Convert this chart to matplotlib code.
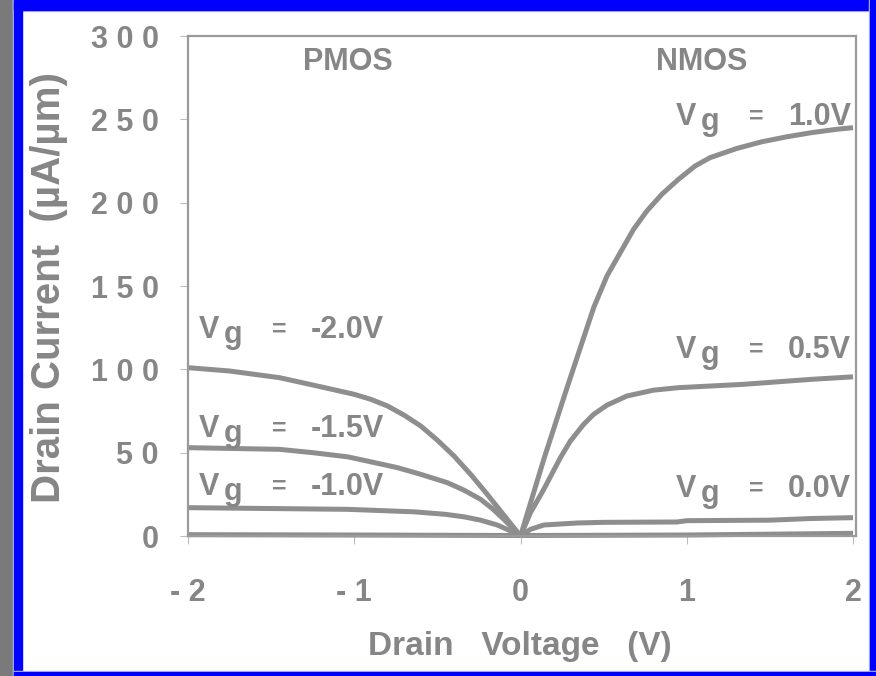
import matplotlib
matplotlib.use("Agg")
import matplotlib.pyplot as plt
from matplotlib.patches import Rectangle
from matplotlib.transforms import offset_copy

W, H = 876, 676

# PMOS curves (negative drain voltage)
x_pm20 = [-2.0, -1.75, -1.45, -1.2, -1.0, -0.9, -0.8, -0.7, -0.6, -0.5, -0.4, -0.3, -0.2, -0.1, 0.0]
i_pm20 = [101, 99, 95, 89.5, 85, 82, 78, 72.5, 66, 57.5, 48, 37, 25, 12.5, 0]
x_pm15 = [-2.0, -1.45, -1.25, -1.04, -0.9, -0.74, -0.6, -0.44, -0.34, -0.24, -0.17, -0.1, 0.0]
i_pm15 = [53, 52, 50, 47.5, 44.5, 41, 37, 32, 27.5, 22, 16.5, 10, 0]
x_pm10 = [-2.0, -1.04, -0.64, -0.45, -0.34, -0.24, -0.14, -0.07, 0.0]
i_pm10 = [17, 16, 14.5, 13, 11.5, 9.5, 6.6, 3.5, 0]
x_pm00 = [-2.0, -1.0, 0.0]
i_pm00 = [0.8, 0.6, 0.3]

# NMOS curves (positive drain voltage)
x_nm10 = [0.0, 0.14, 0.28, 0.44, 0.52, 0.6, 0.68, 0.76, 0.85, 0.95, 1.05, 1.14,
          1.3, 1.45, 1.6, 1.75, 1.9, 2.0]
i_nm10 = [0, 46, 89, 137, 156, 170, 184, 195, 205, 214, 222, 227,
          232.5, 236.5, 239.5, 242, 244, 245]
x_nm05 = [0.0, 0.06, 0.14, 0.24, 0.3, 0.38, 0.44, 0.52, 0.64, 0.8, 0.95, 1.34, 1.75, 2.0]
i_nm05 = [0, 14, 28, 47, 57, 67, 73, 78.5, 84, 87.5, 89, 91, 94, 95.5]
x_nm00 = [0.0, 0.06, 0.14, 0.34, 0.5, 0.94, 1.0, 1.5, 1.75, 2.0]
i_nm00 = [0, 4, 6.6, 7.8, 8.2, 8.4, 9.2, 9.5, 10.5, 11]
x_nm_lo = [0.0, 1.0, 1.8, 2.0]
i_nm_lo = [0.3, 0.6, 1.4, 1.6]

x_ticks = [-2, -1, 0, 1, 2]
x_ticklabels = ["- 2", "- 1", "0", "1", "2"]
y_ticks = [0, 50, 100, 150, 200, 250, 300]
y_ticklabels = ["0", "5 0", "1 0 0", "1 5 0", "2 0 0", "2 5 0", "3 0 0"]

# gate labels: (value text, x, y of the "V" baseline)
gate_labels = [("-2.0V", -1.934, 118.8), ("-1.5V", -1.934, 59.4), ("-1.0V", -1.934, 24.6),
               ("1.0V", 0.935, 246.6), ("0.5V", 0.935, 106.8), ("0.0V", 0.935, 23.4)]

grey = "#868686"
line_grey = "#8e8e8e"
plt.rcParams["font.family"] = ["Liberation Sans", "DejaVu Sans"]
plt.rcParams["font.weight"] = "bold"

fig = plt.figure(figsize=(W / 100, H / 100), dpi=100)
fig.patch.set_facecolor("white")

# frame: grey strip on the left, blue border
def frect(x0, y0, x1, y1, color):
    fig.patches.append(Rectangle((x0 / W, 1 - y1 / H), (x1 - x0) / W, (y1 - y0) / H,
                                 transform=fig.transFigure, color=color, zorder=-10))

frect(0, 0, 13, H, "#7a7a7a")
frect(13, 0, W, 11, "#c8c8ff")
frect(13, 0, 14, H, "#c8c8ff")
frect(14, 0, W, 10, "#0000ff")
frect(14, 0, 22, H, "#0000ff")
frect(869, 0, W, H, "#c8c8ff")
frect(870, 0, W, H, "#0000ff")
frect(14, 671, W, H, "#c8c8ff")
frect(14, 672, W, H, "#0000ff")

ax = fig.add_axes([188 / W, 1 - 536 / H, 668 / W, 500 / H])
ax.set_xlim(-2, 2.018)
ax.set_ylim(0, 300)

lw = 3.6
for xs, ys in [(x_pm00, i_pm00), (x_nm_lo, i_nm_lo), (x_pm10, i_pm10), (x_pm15, i_pm15),
               (x_pm20, i_pm20), (x_nm00, i_nm00), (x_nm05, i_nm05), (x_nm10, i_nm10)]:
    ax.plot(xs, ys, color=line_grey, lw=lw, solid_capstyle="butt",
            solid_joinstyle="round", clip_on=False)

for s in ax.spines.values():
    s.set_color("#9a9a9a")
    s.set_linewidth(1.6)

ax.set_xticks(x_ticks)
ax.set_xticklabels(x_ticklabels)
ax.set_yticks(y_ticks)
ax.set_yticklabels(y_ticklabels)
ax.tick_params(axis="both", colors="#bdbdbd", labelcolor=grey, labelsize=22, length=6, width=0.8)
ax.tick_params(axis="y", pad=15)
ax.tick_params(axis="x", pad=24)

fig.text(520 / W, 1 - 655 / H, "Drain   Voltage   (V)", ha="center", va="baseline",
         fontsize=24, color=grey)
fig.text(49 / W, 1 - 288 / H, "Drain Current  (µA/µm)", ha="center", va="center",
         rotation=90, fontsize=29, color=grey)

ax.text(-1.038, 284.4, "PMOS", ha="center", va="center", fontsize=22, color=grey)
ax.text(1.092, 284.4, "NMOS", ha="center", va="center", fontsize=22, color=grey)

for val, xv, yv in gate_labels:
    kw = dict(fontsize=22, color=grey, va="baseline", ha="left")
    ax.text(xv, yv, "V", **kw)
    ax.text(xv, yv, "g", transform=offset_copy(ax.transData, fig, x=25, y=-5, units="dots"), **kw)
    ax.text(xv, yv, "=", fontsize=18, color=grey, va="baseline", ha="left",
            transform=offset_copy(ax.transData, fig, x=73, y=1, units="dots"))
    ax.text(xv, yv, val, transform=offset_copy(ax.transData, fig, x=112, y=0, units="dots"), **kw)

fig.savefig("out.png", dpi=100, facecolor="white")
